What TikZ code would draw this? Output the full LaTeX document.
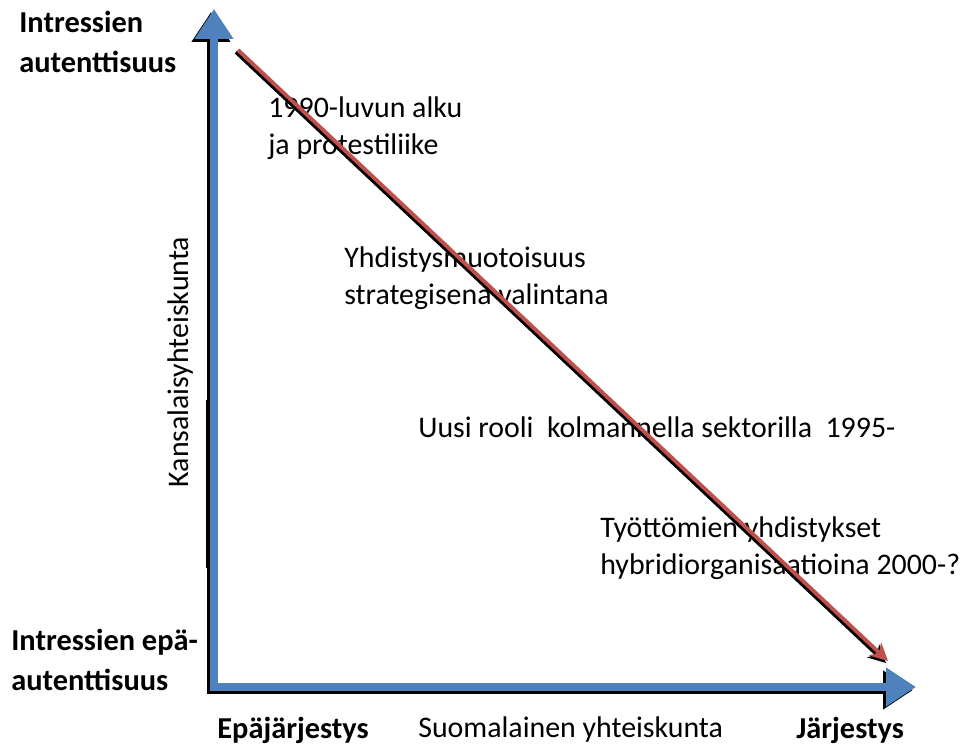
\documentclass[tikz,border=0pt]{standalone}
\usepackage{fontspec}
\setmainfont{Carlito}
\usetikzlibrary{arrows.meta}
\definecolor{axisblue}{HTML}{4F81BD}
\definecolor{trendred}{HTML}{C0504D}
\tikzset{
  axisline/.style={
    line width=5pt, draw=#1, line join=miter,
    {Triangle[width=21pt,length=17pt]}-{Triangle[width=21pt,length=17pt]}
  },
  axisline/.default=axisblue,
  trendline/.style={
    line width=2.2pt, draw=#1,
    -{Stealth[width=10pt,length=10pt,inset=3pt]}
  },
  trendline/.default=trendred,
  phase/.style={
    inner sep=0pt, anchor=west, align=left,
    font=\fontsize{17}{21}\selectfont
  },
  axislabel/.style={
    inner sep=0pt, anchor=west, align=left,
    font=\fontsize{17.3}{22.5}\selectfont\bfseries
  },
}

\begin{document}
\begin{tikzpicture}[x=0.02cm,y=-0.02cm]
  \useasboundingbox (0,0) rectangle (965,747);

  % Axis end points
  \coordinate (ytop) at (214,9);
  \coordinate (O) at (214,687);
  \coordinate (xend) at (916,687);

  % Axes with shadow
  \draw[axisline=black] ([shift={(-3,3)}]ytop) -- ([shift={(-3,3)}]O) -- ([shift={(-3,3)}]xend);
  \draw[line width=1.6pt] (207,400) -- (207,568);
  \draw[axisline] (ytop) -- (O) -- (xend);

  % Phase texts
  \node[phase] (alku) at (268,128) {1990-luvun alku\\ja protestiliike};
  \node[phase] (yhdistys) at (344,278) {Yhdistysmuotoisuus\\strategisena valintana};
  \node[phase] (rooli) at (418,427) {Uusi rooli\ \ kolmannella sektorilla\ \ 1995-};
  \node[phase] (hybridi) at (600,548) {Työttömien yhdistykset\\hybridiorganisaatioina 2000-?};

  % Trend arrow
  \coordinate (tstart) at (238,50);
  \coordinate (tend) at (888,661);
  \draw[trendline=black] ([shift={(-2,2)}]tstart) -- ([shift={(-2,2)}]tend);
  \draw[trendline] (tstart) -- (tend);

  % Axis labels
  \node[axislabel] (auth) at (19,42) {Intressien\\autenttisuus};
  \node[axislabel] (nonauth) at (11,660) {Intressien epä-\\autenttisuus};
  \node[axislabel] (disorder) at (217,730) {Epäjärjestys};
  \node[phase] (society) at (418,730) {Suomalainen yhteiskunta};
  \node[axislabel] (order) at (796,730) {Järjestys};
  \node[phase, anchor=center, rotate=90] (civil) at (181,362) {Kansalaisyhteiskunta};
\end{tikzpicture}
\end{document}
